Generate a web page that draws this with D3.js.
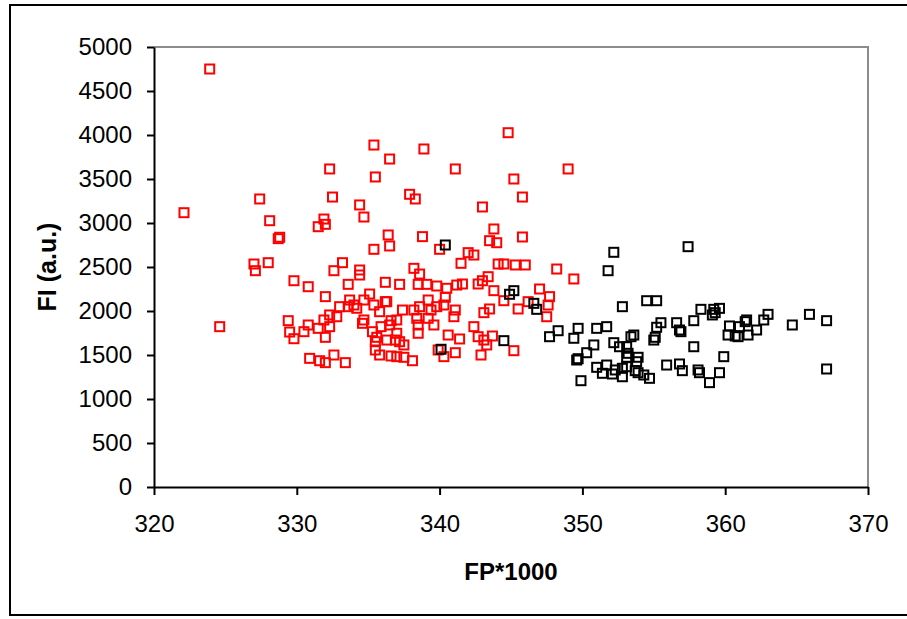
<!DOCTYPE html>
<html>
<head>
<meta charset="utf-8">
<script src="https://cdn.jsdelivr.net/npm/d3@7"></script>
<style>
  body { margin: 0; background: #fff; }
  svg { display: block; }
  .axis text { font-family: Arial, "Liberation Sans", sans-serif; fill: #000; }
</style>
</head>
<body>
<div class="graphContainer"></div>
<script>
var xTicks = [320, 330, 340, 350, 360, 370],
    yTicks = [0, 500, 1000, 1500, 2000, 2500, 3000, 3500, 4000, 4500, 5000];

// red group, [FP*1000, FI]
var redPoints = [
  [323.9, 4750], [327.4, 3273], [322.1, 3117], [328.1, 3026], [328.8, 2838], [328.7, 2822],
  [327.0, 2534], [327.1, 2458], [328.0, 2549], [329.8, 2344], [324.6, 1822], [329.4, 1890],
  [329.5, 1761], [329.8, 1685],
  [335.4, 3886], [338.9, 3841], [336.5, 3727], [332.3, 3614], [335.5, 3523], [341.1, 3614],
  [332.5, 3295], [334.4, 3205], [334.7, 3068], [337.9, 3326], [338.3, 3273], [331.9, 3045],
  [332.0, 2985], [331.5, 2958], [336.4, 2864], [338.8, 2845], [336.5, 2739], [335.4, 2701],
  [340.0, 2701],
  [344.8, 4026], [349.0, 3614], [345.2, 3500], [345.8, 3295], [343.0, 3182], [343.8, 2932],
  [345.8, 2841], [343.5, 2799], [344.0, 2776], [342.0, 2663], [342.4, 2636],
  [341.5, 2542], [344.1, 2534], [344.5, 2534], [345.3, 2523], [346.0, 2523], [348.2, 2477],
  [349.4, 2364], [341.2, 2295], [341.6, 2307], [342.7, 2307], [343.0, 2344], [343.4, 2390],
  [343.8, 2231], [344.5, 2117], [347.0, 2250], [347.7, 2163], [347.6, 2068], [347.5, 1935],
  [346.2, 2106], [345.5, 2023], [343.5, 2023], [343.1, 1981], [341.1, 2011], [341.0, 1935],
  [342.4, 1822], [341.4, 1682], [342.7, 1708], [343.1, 1670], [343.3, 1614], [343.7, 1716],
  [341.1, 1526], [342.9, 1500], [345.2, 1549],
  [333.2, 2549], [332.6, 2458], [334.4, 2466], [334.4, 2409], [338.2, 2485], [338.6, 2420],
  [330.8, 2276], [333.6, 2303], [336.2, 2326], [337.2, 2303], [338.5, 2303], [339.1, 2303],
  [339.8, 2284], [340.5, 2258], [332.0, 2163], [335.1, 2193], [340.4, 2156], [333.7, 2125],
  [334.7, 2125], [336.2, 2106], [336.3, 2106], [333.0, 2049], [333.6, 2049], [334.0, 2068],
  [334.2, 2031], [335.4, 2068], [335.8, 1992], [339.2, 2125], [338.6, 2049], [339.8, 2049],
  [340.3, 2068], [337.4, 2011], [338.2, 2011], [339.4, 2011], [332.3, 1955], [332.8, 1935],
  [331.9, 1898], [334.7, 1898], [336.6, 1890], [337.0, 1898], [338.4, 1917], [339.2, 1917],
  [330.8, 1841], [332.3, 1822], [331.5, 1803], [334.6, 1860], [335.9, 1822], [336.5, 1841],
  [338.5, 1841], [339.6, 1841], [330.5, 1765], [332.0, 1701], [335.3, 1765], [335.6, 1701],
  [337.0, 1747], [338.5, 1747], [340.6, 1727], [335.5, 1651], [336.3, 1670], [336.9, 1670],
  [337.2, 1651], [337.5, 1614], [335.5, 1557], [339.9, 1557], [340.3, 1481], [335.8, 1500],
  [336.6, 1489], [337.0, 1481], [337.5, 1474], [338.1, 1435], [330.9, 1462], [331.6, 1435],
  [332.0, 1413], [332.6, 1500], [333.4, 1413]
];

// black group
var blackPoints = [
  [340.4, 2750], [344.9, 2190], [345.2, 2231], [346.6, 2087], [346.8, 2019], [344.5, 1663],
  [340.1, 1565], [347.7, 1708], [348.3, 1776], [349.4, 1690], [349.7, 1803], [351.0, 1803],
  [351.7, 1822], [350.8, 1614], [350.3, 1526], [349.6, 1443], [349.7, 1458], [351.0, 1360],
  [351.4, 1292], [351.7, 1386], [349.9, 1208],
  [352.2, 2667], [357.4, 2731], [351.8, 2458], [354.5, 2117], [355.2, 2117], [352.8, 2049],
  [358.3, 2019], [359.2, 2019], [359.6, 2030], [359.1, 1955], [359.3, 1981], [355.5, 1867],
  [356.6, 1867], [357.8, 1890], [355.2, 1815], [356.8, 1784], [356.9, 1765], [360.3, 1830],
  [360.2, 1727], [360.7, 1716], [353.6, 1727], [353.4, 1708], [355.1, 1701], [355.0, 1670],
  [352.2, 1640], [352.6, 1594], [353.1, 1594], [353.2, 1519], [357.8, 1594], [359.9, 1481],
  [353.1, 1474], [353.9, 1474], [353.8, 1424], [352.3, 1330], [352.8, 1349], [353.1, 1367],
  [353.7, 1322], [353.9, 1299], [352.1, 1284], [352.8, 1253], [354.3, 1273], [354.7, 1235],
  [355.9, 1386], [356.8, 1398], [357.0, 1322], [358.1, 1330], [358.2, 1299], [359.6, 1299],
  [358.9, 1186],
  [363.0, 1962], [362.7, 1898], [361.5, 1898], [361.4, 1879], [361.0, 1822], [362.2, 1784],
  [361.6, 1727], [360.9, 1708], [364.7, 1841], [365.9, 1962], [367.1, 1890], [367.1, 1341]
];

function drawChart() {
  var w = 907,
      h = 619,
      pLeft = 154, pRight = 868, pTop = 47, pBottom = 487,
      markSize = 9;

  var x = d3.scaleLinear().domain([320, 370]).range([pLeft, pRight]);
  var y = d3.scaleLinear().domain([0, 5000]).range([pBottom, pTop]);

  var svg = d3.select(".graphContainer")
    .append("svg")
    .attr("width", w)
    .attr("height", h);

  // outer chart frame (right edge runs off the picture)
  svg.append("rect")
    .attr("x", 10).attr("y", 5)
    .attr("width", 910).attr("height", 610)
    .attr("fill", "none")
    .attr("stroke", "#000")
    .attr("stroke-width", 2);

  // plot area: grey top / right edges
  svg.append("path")
    .attr("d", "M" + pLeft + "," + pTop + "H" + pRight + "V" + pBottom)
    .attr("fill", "none")
    .attr("stroke", "#8c8c8c")
    .attr("stroke-width", 2);

  var xAxis = svg.append("g")
    .attr("class", "axis")
    .attr("transform", "translate(0," + pBottom + ")")
    .call(d3.axisBottom(x).tickValues(xTicks).tickSize(8).tickPadding(20).tickSizeOuter(0));

  var yAxis = svg.append("g")
    .attr("class", "axis")
    .attr("transform", "translate(" + pLeft + ",0)")
    .call(d3.axisLeft(y).tickValues(yTicks).tickFormat(d3.format("d"))
      .tickSize(7).tickPadding(15).tickSizeOuter(0));

  [xAxis, yAxis].forEach(function (g) {
    g.select(".domain").attr("stroke", "#000").attr("stroke-width", 2);
    g.selectAll(".tick line").attr("stroke", "#000").attr("stroke-width", 2);
    g.selectAll(".tick text").style("font-size", "24px");
  });

  // markers
  function drawSeries(data, colour) {
    svg.append("g")
      .selectAll("rect")
      .data(data)
      .enter()
        .append("rect")
          .attr("x", function (d) { return x(d[0]) - markSize / 2; })
          .attr("y", function (d) { return y(d[1]) - markSize / 2; })
          .attr("width", markSize)
          .attr("height", markSize)
          .attr("fill", "none")
          .attr("stroke", colour)
          .attr("stroke-width", 2);
  }
  drawSeries(redPoints, "#ff0000");
  drawSeries(blackPoints, "#000000");

  // axis titles
  svg.append("text")
    .attr("x", (pLeft + pRight) / 2)
    .attr("y", 580)
    .attr("text-anchor", "middle")
    .style("font-family", "Arial, 'Liberation Sans', sans-serif")
    .style("font-weight", "bold")
    .style("font-size", "24px")
    .text("FP*1000");

  svg.append("text")
    .attr("transform", "translate(56," + ((pTop + pBottom) / 2) + ") rotate(-90)")
    .attr("text-anchor", "middle")
    .style("font-family", "Arial, 'Liberation Sans', sans-serif")
    .style("font-weight", "bold")
    .style("font-size", "25px")
    .text("FI (a.u.)");
}

drawChart();
</script>
</body>
</html>
